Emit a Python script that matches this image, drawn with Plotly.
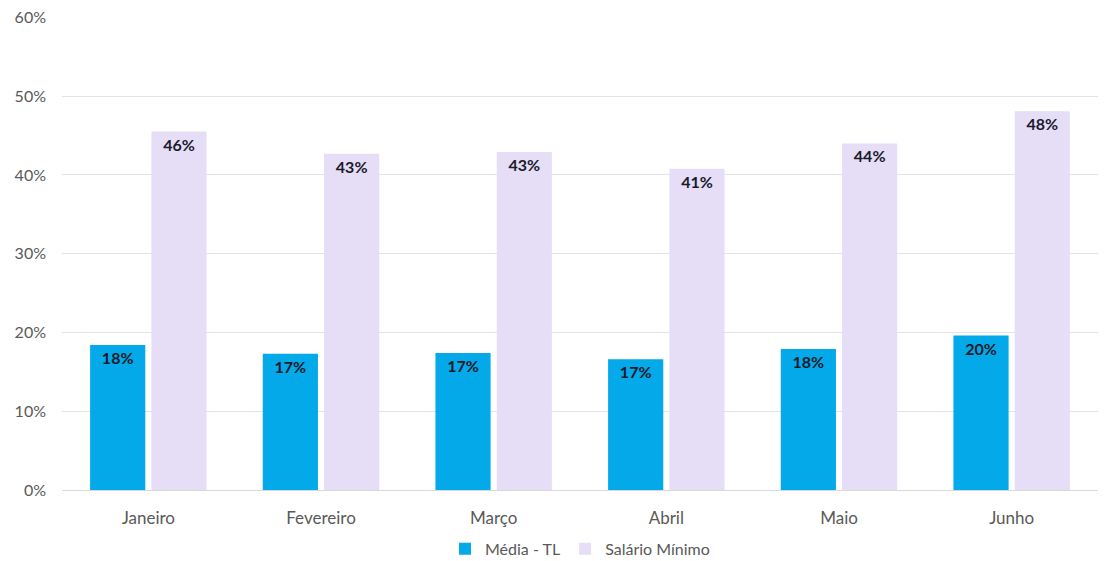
import plotly.graph_objects as go

months = ["Janeiro", "Fevereiro", "Março", "Abril", "Maio", "Junho"]
media_tl = [18.4, 17.3, 17.4, 16.6, 17.9, 19.6]
salario_minimo = [45.5, 42.7, 42.9, 40.8, 44.0, 48.1]

FONT = "Lato"
LABEL_FONT = dict(family=FONT, size=16, color="#1a1a2a", weight="bold")

fig = go.Figure()
fig.add_bar(
    x=months, y=media_tl, name="Média - TL",
    marker=dict(color="#03A9E8", line=dict(width=0)),
    texttemplate="%{y:.0f}%", textposition="inside", insidetextanchor="end",
    textfont=LABEL_FONT, textangle=0,
)
fig.add_bar(
    x=months, y=salario_minimo, name="Salário Mínimo",
    marker=dict(color="#E6DEF7", line=dict(width=0)),
    texttemplate="%{y:.0f}%", textposition="inside", insidetextanchor="end",
    textfont=LABEL_FONT, textangle=0,
)

fig.update_layout(
    width=1110, height=561,
    margin=dict(l=54, r=20, t=9, b=79, autoexpand=False),
    paper_bgcolor="white", plot_bgcolor="white",
    barmode="group", bargap=0.29, bargroupgap=0.1,
    font=dict(family=FONT, size=16, color="#595959"),
    legend=dict(orientation="h", x=0.5, xanchor="center",
                yref="container", y=0.036, yanchor="middle",
                font=dict(family=FONT, size=16, color="#595959"),
                itemwidth=30, traceorder="normal"),
    showlegend=True,
)
fig.update_yaxes(range=[0, 60.05], dtick=10, ticksuffix="%", showgrid=True,
                 gridcolor="#E3E3E3", gridwidth=1, zeroline=True,
                 zerolinecolor="#D9D9D9", zerolinewidth=1,
                 tickfont=dict(family=FONT, size=16, color="#595959"),
                 ticks="", showline=False, automargin=False, ticklabelstandoff=15,
                 ticklabeloverflow="allow")
fig.update_xaxes(showline=False, ticks="", automargin=False, ticklabelstandoff=16,
                 tickfont=dict(family=FONT, size=17, color="#595959"))

fig.write_html("out.html")
